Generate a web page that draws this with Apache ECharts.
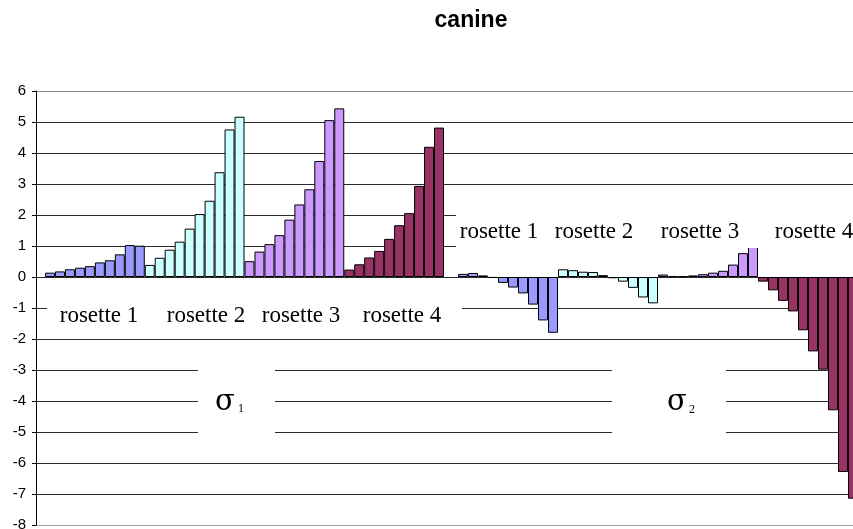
<!DOCTYPE html>
<html>
<head>
<meta charset="utf-8">
<title>canine</title>
<script src="https://cdn.jsdelivr.net/npm/echarts@6/dist/echarts.min.js"></script>
<style>
  html, body { margin: 0; padding: 0; background: #ffffff; }
  #chart { width: 853px; height: 529px; }
</style>
</head>
<body>
<div id="chart"></div>
<script>
// ---- data -------------------------------------------------------------
const chartTitle = 'canine';
const rosetteNames = ['rosette 1', 'rosette 2', 'rosette 3', 'rosette 4'];
const stressSymbol = 'σ';
const stressIndices = ['1', '2'];

// value axis: -8 … 6, one unit per tick
const yMin = -8;
const yMax = 6;
const yStep = 1;

// σ1, ten gauges per rosette
const sigma1Rosette1 = [0.14, 0.18, 0.25, 0.30, 0.35, 0.47, 0.54, 0.73, 1.03, 1.01];
const sigma1Rosette2 = [0.39, 0.62, 0.88, 1.14, 1.56, 2.03, 2.46, 3.38, 4.76, 5.17];
const sigma1Rosette3 = [0.51, 0.82, 1.06, 1.35, 1.85, 2.34, 2.83, 3.74, 5.06, 5.44];
const sigma1Rosette4 = [0.24, 0.41, 0.63, 0.84, 1.23, 1.67, 2.06, 2.94, 4.20, 4.82];

// σ2, ten gauges per rosette
const sigma2Rosette1 = [0.10, 0.13, 0.05, -0.03, -0.19, -0.34, -0.53, -0.89, -1.40, -1.80];
const sigma2Rosette2 = [0.25, 0.22, 0.17, 0.16, 0.06, -0.04, -0.15, -0.35, -0.66, -0.85];
const sigma2Rosette3 = [0.08, 0.03, 0.02, 0.05, 0.09, 0.14, 0.20, 0.40, 0.77, 1.00];
const sigma2Rosette4 = [-0.15, -0.43, -0.77, -1.11, -1.72, -2.40, -2.99, -4.30, -6.29, -7.15];

// ---- styling ----------------------------------------------------------
const rosetteColors = ['#9999FF', '#CCFFFF', '#CC99FF', '#993366'];
const serifFont = '"Liberation Serif", "Times New Roman", serif';
const symbolFont = '"DejaVu Serif", "Liberation Serif", serif';
const sansFont = '"Liberation Sans", Arial, sans-serif';

// plot frame (pixels)
const plotTop = 91;
const plotHeight = 434;

// split line colours, bottom line first
const splitColors = [];
for (let v = yMin; v <= yMax; v += yStep) {
  splitColors.push(v === yMin ? '#a8a8a8' : (v === yMax ? '#8a8a8a' : '#2a2a2a'));
}

const sigma1Groups = [sigma1Rosette1, sigma1Rosette2, sigma1Rosette3, sigma1Rosette4];
const sigma2Groups = [sigma2Rosette1, sigma2Rosette2, sigma2Rosette3, sigma2Rosette4];

// one category slot per gauge
function gaugeCategories(groups) {
  const cats = [];
  groups.forEach((g, r) => g.forEach((_, i) => cats.push('r' + (r + 1) + '-' + (i + 1))));
  return cats;
}

// each rosette is its own series, sharing the same slots
function rosetteSeries(groups, axisIndex) {
  const total = groups.reduce((n, g) => n + g.length, 0);
  let offset = 0;
  return groups.map((g, r) => {
    const data = new Array(total).fill('-');
    g.forEach((v, i) => { data[offset + i] = v; });
    offset += g.length;
    return {
      type: 'bar',
      name: rosetteNames[r],
      xAxisIndex: axisIndex,
      yAxisIndex: axisIndex,
      data: data,
      barWidth: '100%',
      barGap: '-100%',
      itemStyle: { color: rosetteColors[r], borderColor: '#000000', borderWidth: 1 },
      emphasis: { disabled: true },
      animation: false,
      z: 3
    };
  });
}

function hiddenY() {
  return { type: 'value', min: yMin, max: yMax, interval: yStep, show: false };
}

function frame(left, width) {
  return { left: left, top: plotTop, width: width, height: plotHeight, containLabel: false, outerBoundsMode: 'none' };
}

const chart = echarts.init(document.getElementById('chart'), null, { renderer: 'canvas' });

// white panels behind the annotation texts
function panel(x, y, w, h) {
  return { type: 'rect', shape: { x: x, y: y, width: w, height: h }, style: { fill: '#ffffff' }, z: 50, silent: true };
}
function label(text, x, y, font, align) {
  return {
    type: 'text', x: x, y: y, z: 60, silent: true,
    style: { text: text, fill: '#000000', font: font, align: align || 'center', verticalAlign: 'middle' }
  };
}

const sigma1LabelX = [99, 206, 301, 402];
const sigma2LabelX = [499, 594, 700, 814];
const rosetteFont = '23px ' + serifFont;

const graphics = [
  panel(47, 292, 415, 42),
  panel(456, 195, 397, 53),
  panel(198, 350, 77, 100),
  panel(612, 350, 114, 100)
];
rosetteNames.forEach((n, i) => graphics.push(label(n, sigma1LabelX[i], 316, rosetteFont)));
rosetteNames.forEach((n, i) => graphics.push(label(n, sigma2LabelX[i], 232, rosetteFont)));
graphics.push(label(stressSymbol, 225, 402, '29px ' + symbolFont));
graphics.push(label(stressIndices[0], 238, 409, '12px ' + serifFont, 'left'));
graphics.push(label(stressSymbol, 677, 402, '29px ' + symbolFont));
graphics.push(label(stressIndices[1], 689, 410, '12px ' + serifFont, 'left'));
graphics.push(label(chartTitle, 471, 21, 'bold 23px ' + sansFont));

const option = {
  backgroundColor: '#ffffff',
  animation: false,
  grid: [
    frame(36, 420),   // σ1 frame
    frame(456, 397),  // σ2 frame
    frame(45, 399),   // σ1 bars
    frame(458, 400)   // σ2 bars
  ],
  xAxis: [
    { type: 'value', gridIndex: 0, min: 0, max: 1, show: false },
    { type: 'value', gridIndex: 1, min: 0, max: 1, show: false },
    { type: 'category', gridIndex: 2, data: gaugeCategories(sigma1Groups), show: false },
    { type: 'category', gridIndex: 3, data: gaugeCategories(sigma2Groups), show: false }
  ],
  yAxis: [
    {
      type: 'value', gridIndex: 0, min: yMin, max: yMax, interval: yStep,
      axisLine: { show: true, lineStyle: { color: '#000000', width: 1 } },
      axisTick: { show: true, length: 4, lineStyle: { color: '#000000' } },
      axisLabel: { margin: 10, color: '#000000', fontFamily: sansFont, fontSize: 15 },
      splitLine: { show: true, lineStyle: { color: splitColors, width: 1 } }
    },
    {
      type: 'value', gridIndex: 1, min: yMin, max: yMax, interval: yStep,
      axisLine: { show: false }, axisTick: { show: false }, axisLabel: { show: false },
      splitLine: { show: true, lineStyle: { color: splitColors, width: 1 } }
    },
    Object.assign(hiddenY(), { gridIndex: 2 }),
    Object.assign(hiddenY(), { gridIndex: 3 })
  ],
  series: rosetteSeries(sigma1Groups, 2).concat(rosetteSeries(sigma2Groups, 3)),
  graphic: graphics
};

chart.setOption(option);
</script>
</body>
</html>
